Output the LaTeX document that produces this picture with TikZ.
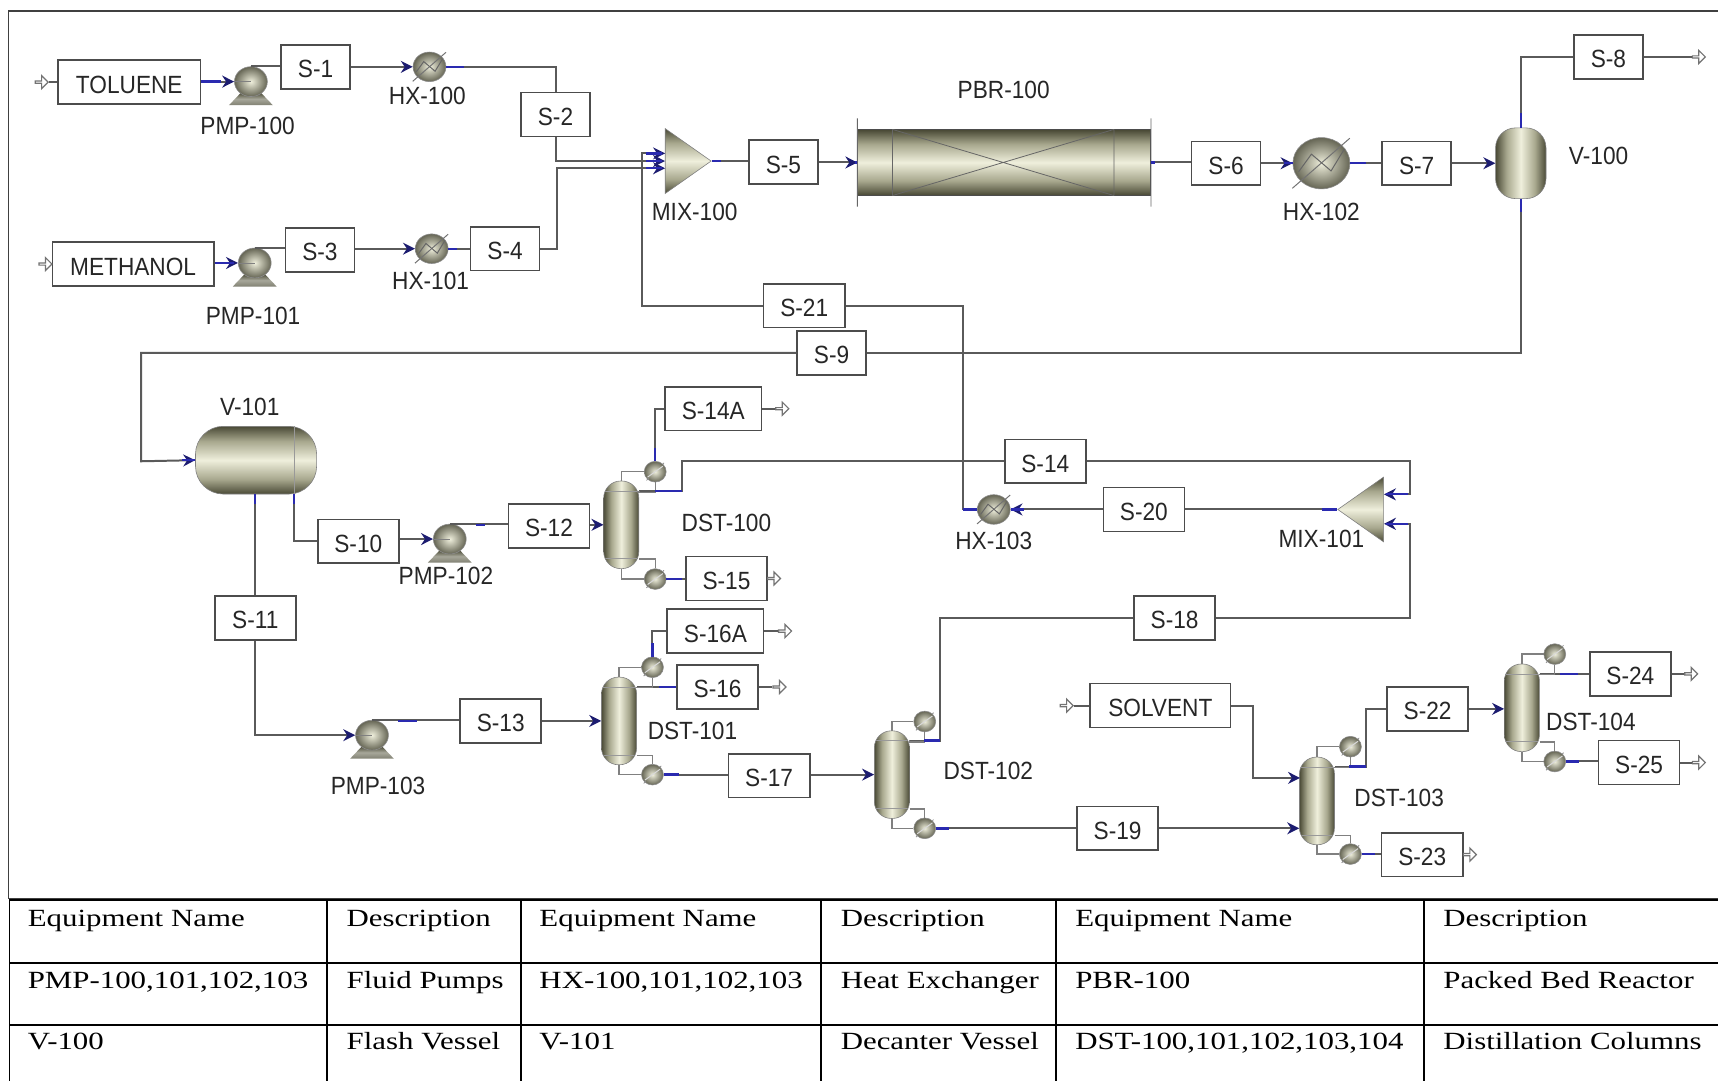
\documentclass[tikz,border=0pt]{standalone}
\usepackage{fontspec}
\usetikzlibrary{arrows.meta,shapes.geometric,shapes.arrows}
\newfontfamily\flowfont[FakeStretch=0.91]{Liberation Sans}
\newfontfamily\tablefont[FakeStretch=1.25]{Liberation Serif}
\definecolor{pipegray}{HTML}{5A5A5A}
\definecolor{nozzleblue}{HTML}{2A2AB0}
\definecolor{tipblue}{HTML}{1C1C70}
\definecolor{eqdark}{HTML}{4A4A36}
\definecolor{eqmid}{HTML}{A8A88E}
\definecolor{eqlight}{HTML}{EFEFDC}
\pgfdeclarehorizontalshading{colshade}{100bp}{color(0bp)=(eqdark);color(25bp)=(eqdark);color(36bp)=(eqmid);color(50bp)=(eqlight);color(64bp)=(eqmid);color(75bp)=(eqdark);color(100bp)=(eqdark)}
\pgfdeclareverticalshading{barshade}{100bp}{color(0bp)=(eqdark);color(25bp)=(eqdark);color(36bp)=(eqmid);color(50bp)=(eqlight);color(64bp)=(eqmid);color(75bp)=(eqdark);color(100bp)=(eqdark)}
\tikzset{
  flowtext/.style={font=\flowfont\fontsize{12.5}{14}\selectfont,text=black!85},
  streambox/.style={draw=black!70,line width=0.8pt,fill=white,inner sep=0pt,minimum width=#1,minimum height=22pt,flowtext,text height=11pt,text depth=0pt},
  streambox/.default=34.6pt,
  pipe/.style={draw=pipegray,line width=1pt},
  feed/.style={pipe,-{Stealth[length=6pt,width=6pt,color=tipblue]}},
  nozzle/.style={draw=nozzleblue,line width=1.2pt},
  loop/.style={draw=black!50,line width=0.7pt},
  openarrow/.style={single arrow,draw=black!55,fill=white,line width=0.6pt,inner sep=0pt,minimum height=6.5pt,minimum width=6.5pt,single arrow head extend=1.5pt},
  ball/.style={ellipse,inner sep=0pt,draw=black!45,line width=0.3pt,inner color=eqlight,outer color=eqdark!85},
  column/.style={rectangle,rounded corners=8.5pt,inner sep=0pt,minimum width=17.6pt,minimum height=44pt,draw=black!50,line width=0.3pt,shade,shading=colshade,
    path picture={\draw[black!40,line width=0.3pt] ([yshift=-5pt]path picture bounding box.north west) -- ([yshift=-5pt]path picture bounding box.north east) ([yshift=5pt]path picture bounding box.south west) -- ([yshift=5pt]path picture bounding box.south east);}},
  mixer/.style={isosceles triangle,isosceles triangle stretches,inner sep=0pt,minimum width=32.5pt,minimum height=23pt,shape border rotate=#1,draw=black!50,line width=0.3pt,shade,shading=barshade},
  tablerule/.style={draw=black,line width=0.8pt},
  tabletext/.style={anchor=base west,inner sep=0pt,font=\tablefont\fontsize{12.4}{14}\selectfont}
}
\begin{document}
\begin{tikzpicture}[x=0.55pt,y=-0.55pt]
  \useasboundingbox (0,0) rectangle (1568,987);
  \draw[black!75,line width=0.7pt] (1568,10) -- (7.5,10) -- (7.5,820) -- (1568,820);

  % stream boxes
  \foreach \n/\t/\x/\y/\w in {toluene/TOLUENE/118/75/71.5pt,methanol/METHANOL/121.5/241/80.9pt,solvent/SOLVENT/1059/644/70.4pt,
      s1/S-1/288/61/34.6pt,s2/S-2/507/104.5/34.6pt,s3/S-3/292/228/34.6pt,s4/S-4/461/227/34.6pt,s5/S-5/715/148/34.6pt,
      s6/S-6/1119/149/34.6pt,s7/S-7/1293/149/34.6pt,s8/S-8/1468/52/34.6pt,s9/S-9/759/322/34.6pt,
      s10/S-10/327/494/40.7pt,s11/S-11/233/564/40.7pt,s12/S-12/501/480/40.7pt,s13/S-13/457/658/40.7pt,
      s14/S-14/954/421/40.7pt,s14a/S-14A/651/373/48.4pt,s15/S-15/663/528/40.7pt,s16/S-16/655/627/40.7pt,
      s16a/S-16A/653/576/48.4pt,s17/S-17/702/708/40.7pt,s18/S-18/1072/564/40.7pt,s19/S-19/1020/756/40.7pt,
      s20/S-20/1044/465/40.7pt,s21/S-21/734/279/40.7pt,s22/S-22/1303/647/40.7pt,s23/S-23/1298/780/40.7pt,
      s24/S-24/1488/615/40.7pt,s25/S-25/1496/696/40.7pt}
    \node[streambox=\w] (\n) at (\x,\y) {\t};

  % pumps
  \foreach \n/\x/\y in {pmp100/229/74.5,pmp101/232.5/240,pmp102/410.5/492,pmp103/339.5/671}{
    \begin{scope}[shift={(\x,\y)}]
      \shade[top color=eqdark,bottom color=eqdark!70,middle color=eqlight!70!black] (-9,10) -- (9,10) -- (20,21.5) -- (-20,21.5) -- cycle;
      \node[ball,minimum width=16.5pt,minimum height=15pt] (\n) at (0,0) {};
      \draw[black!50,line width=0.4pt] (-15,0) -- (0,0);
    \end{scope}}

  % heat exchangers
  \foreach \n/\x/\y/\r in {hx100/392/61/15,hx101/394/227/15,hx102/1206/149/26,hx103/907/465/15}{
    \node[ball,minimum width=2*\r*0.55pt,minimum height=1.8*\r*0.55pt] (\n) at (\x,\y) {};
    \begin{scope}[shift={(\x,\y)},scale=\r]
      \draw[black!55,line width=0.5pt] (-1.02,0.88) -- (1,-0.88);
      \draw[black!60,line width=0.5pt] (-0.8,0.3) -- (-0.35,-0.32) -- (0.34,0.27) -- (0.8,-0.49);
    \end{scope}}

  % condensers and reboilers
  \foreach \n/\x/\y in {cnd100/598/430.5,reb100/598/528.5,cnd101/595.5/609,reb101/595.5/707,cnd102/844/658.5,reb102/844/756,
      cnd103/1232.5/681.5,reb103/1232.5/779.5,cnd104/1419/597,reb104/1419/695}{
    \node[ball,minimum width=11pt,minimum height=10.4pt] (\n) at (\x,\y) {};
    \draw[white!85!black,line width=0.5pt] (\x-7,\y+5) -- (\x+7,\y-5);
    \draw[black!45,line width=0.4pt] (\x-8,\y+8) -- (\x-6,\y+6) (\x+8,\y-8) -- (\x+7,\y-7);}

  % columns and vessels
  \node[column] (dst100) at (567,479) {};
  \node[column] (dst101) at (565,658) {};
  \node[column] (dst102) at (814,707) {};
  \node[column] (dst103) at (1202,731) {};
  \node[column] (dst104) at (1389,646) {};
  \node[column,rounded corners=10pt,minimum width=25.3pt,minimum height=35.5pt,path picture={}] (v100) at (1388,149) {};
  \node[rectangle,rounded corners=14pt,inner sep=0pt,minimum width=60.8pt,minimum height=34pt,draw=black!50,line width=0.3pt,shade,shading=barshade] (v101) at (233.7,420) {};
  \draw[black!40,line width=0.3pt] ([shift={(34.5,0)}]v101.north) -- ([shift={(34.5,0)}]v101.south);
  \node[mixer=0] (mix100) at (622.5,147) {};
  \node[mixer=180] (mix101) at (1247.5,465) {};

  % reactor
  \node[rectangle,inner sep=0pt,minimum width=146.9pt,minimum height=32.7pt,draw=black!70,line width=0.5pt,shade,shading=barshade] (pbr100) at (916.5,148.3) {};
  \draw[black!60,line width=0.4pt] ([shift={(0,-10)}]pbr100.north west) -- ([shift={(0,10)}]pbr100.south west)
    ([shift={(0,-10)}]pbr100.north east) -- ([shift={(0,10)}]pbr100.south east)
    ([xshift=17.6pt]pbr100.north west) -- ([xshift=17.6pt]pbr100.south west)
    ([xshift=-18.6pt]pbr100.north east) -- ([xshift=-18.6pt]pbr100.south east)
    ([xshift=17.6pt]pbr100.north west) -- ([xshift=-18.6pt]pbr100.south east)
    ([xshift=17.6pt]pbr100.south west) -- ([xshift=-18.6pt]pbr100.north east);

  % open arrows for feeds and products
  \foreach \n/\x/\y in {intol/37.5/75,inmet/41/241,insol/973/644,out8/1550/52,out14a/713.5/373,out15/706/528,out16a/716/576,
      out16/711/627,out23/1341/780,out24/1543/615,out25/1550/696}
    \node[openarrow] (\n) at (\x,\y) {};

  \coordinate (mixa) at (607,140);
  \coordinate (mixb) at (607,147);
  \coordinate (mixc) at (607,153.6);

  % feed section
  \draw[pipe] (intol) -- (toluene);
  \draw[feed] (toluene.east |- pmp100) -- (pmp100.west);
  \draw[pipe] (pmp100.north) -- (pmp100.north -| s1.west);
  \draw[feed] (s1) -- (hx100.west);
  \draw[pipe] (hx100.east) -| (s2.north);
  \draw[feed] (s2.south) |- (mixb);
  \draw[pipe] (inmet) -- (methanol);
  \draw[feed] (methanol.east |- pmp101) -- (pmp101.west);
  \draw[pipe] (pmp101.north) -- (pmp101.north -| s3.west);
  \draw[feed] (s3.east |- hx101) -- (hx101.west);
  \draw[pipe] (hx101.east) -- (s4.west);
  \draw[feed] (s4.east) -- ++(15,0) |- (mixc);
  \draw[feed] (s21.west) -- ++(-110,0) |- (mixa);

  % reactor train
  \draw[pipe] (mix100.apex) -- (mix100.apex -| s5.west);
  \draw[feed] (s5.east |- pbr100) -- (pbr100.west);
  \draw[pipe] (pbr100.east) -- (pbr100.east -| s6.west);
  \draw[feed] (s6) -- (hx102.west);
  \draw[pipe] (hx102.east) -- (s7.west);
  \draw[feed] (s7) -- (v100.west);
  \draw[pipe] (v100.north) |- (s8.west);
  \draw[pipe] (s8) -- (out8);
  \draw[pipe] (v100.south) |- (s9.east);
  \draw[feed] (s9.west) -| ++(-598,99) -- (v101.west);

  % decanter and first columns
  \draw[pipe] (v101.south -| s11) -- (s11.north);
  \draw[feed] (s11.south) |- (pmp103.west);
  \draw[pipe] ([xshift=34.5*0.55pt]v101.south) |- (s10.west);
  \draw[feed] (s10.east |- pmp102) -- (pmp102.west);
  \draw[pipe] (pmp102.north) -- (pmp102.north -| s12.west);
  \draw[feed] (s12.east |- dst100) -- (dst100.west);
  \draw[pipe] (pmp103.north) -- (pmp103.north -| s13.west);
  \draw[feed] (s13) -- (dst101.west);
  \draw[pipe] (cnd100.north) |- (s14a.west);
  \draw[pipe] (s14a.east) -- (out14a);
  \draw[pipe] (reb100.east) -- (reb100.east -| s15.west);
  \draw[pipe] (cnd101.north) |- (s16a.west);
  \draw[pipe] (s16a.east) -- (out16a);
  \draw[pipe] (s16.east) -- (out16);
  \draw[pipe] (reb101.east) -- (reb101.east -| s17.west);
  \draw[feed] (s17.east |- dst102) -- (dst102.west);
  \coordinate (dst100top) at (622,448);
  \draw[pipe] (dst100.east |- dst100top) -- (dst100top) |- (s14.west);
  \draw[pipe] (dst101.east |- s16) -- (s16.west);
  \draw[feed] (s14.east) -- ++(295,0) |- ([yshift=7.6pt]mix101.east);

  % recycle
  \draw[pipe] (mix101.apex) -- (s20.east);
  \draw[feed] (s20) -- (hx103.east);
  \draw[pipe] (hx103.west) -- ++(-13,0) |- (s21.east);
  \coordinate (dst102top) at (857.6,676);
  \draw[pipe] (dst102.east |- dst102top) -- (dst102top) |- (s18.west);
  \draw[feed] (s18.east) -- ++(177,0) |- ([yshift=-7.2pt]mix101.east);

  % solvent section
  \draw[pipe] (insol) -- (solvent);
  \draw[feed] (solvent.east) -- ++(20,0) |- (1186.5,710);
  \draw[pipe] (reb102.east) -- (reb102.east -| s19.west);
  \draw[feed] (s19) -- (s19 -| dst103.west);
  \coordinate (dst103top) at (1247,699.7);
  \draw[pipe] (dst103.east |- dst103top) -- (dst103top) |- (s22.west);
  \draw[feed] (s22) -- (s22 -| dst104.west);
  \draw[pipe] (reb103.east) -- (reb103.east -| s23.west);
  \draw[pipe] (dst104.east |- s24) -- (s24.west);
  \draw[pipe] (s24.east) -- (out24);
  \draw[pipe] (reb104.east) -- (reb104.east -| s25.west);
  \draw[pipe] (s25.east) -- (out25);

  % condenser and reboiler loops
  \foreach \col/\cnd/\reb in {dst100/cnd100/reb100,dst101/cnd101/reb101,dst102/cnd102/reb102,dst103/cnd103/reb103,dst104/cnd104/reb104}{
    \draw[loop] (\col.north) |- (\cnd.west);
    \draw[loop] (\cnd.south) -- ++(0,9) -| ([shift={(0,9)}]\col.north east);
    \draw[loop] (\col.south) |- (\reb.west);
    \draw[loop] ([shift={(0,-9)}]\col.south east) -| (\reb.north);}

  % blue nozzle stubs
  \foreach \p/\dx/\dy in {toluene.east |- pmp100/18/0,methanol.east |- pmp101/18/0,hx100.east/16/0,hx101.east/8/0,hx102.east/14/0,
      hx102.west/-8/0,v100.north/0/-13,v100.south/0/12,mix100.apex/8/0,pbr100.east/4/0,pbr100.west/-2/0,
      v101.west/-12/0,v101.south -| s11/0/9,hx103.west/-13/0,hx103.east/12/0,mix101.apex/-14/0,
      cnd100.north/0/-12,reb100.east/14/0,cnd101.north/0/-12,reb101.east/14/0,reb102.east/12/0,
      reb103.east/12/0,reb104.east/12/0,dst100top/-24/0,dst102top/-14/0,dst103top/-16/0,s16.west/-16/0}
    \draw[nozzle] (\p) -- ++(\dx,\dy);
  \foreach \x/\y/\l in {434/479/9,363/658/18,1265/451/20,1265/478/20,590/140/14,590/147/14,590/153.6/14,1424/615/16}
    \draw[nozzle] (\x,\y) -- ++(\l,0);
  \draw[nozzle] ([xshift=34.5*0.55pt]v101.south) -- ++(0,9);

  % equipment labels
  \foreach \n/\t/\x/\y in {lpmp100/PMP-100/226/115,lhx100/HX-100/390/88,lpbr100/PBR-100/916/82,lmix100/MIX-100/634/193,
      lhx102/HX-102/1206/193,lv100/V-100/1459/142,lpmp101/PMP-101/231/288,lhx101/HX-101/393/256,lv101/V-101/228/371,
      ldst100/DST-100/663/477,lpmp102/PMP-102/407/526,ldst101/DST-101/632/667,lpmp103/PMP-103/345/717,lhx103/HX-103/907/494,
      lmix101/MIX-101/1206/492,ldst102/DST-102/902/704,ldst103/DST-103/1277/728,ldst104/DST-104/1452/659}
    \node[flowtext,inner sep=0pt] (\n) at (\x,\y) {\t};

  % table
  \draw[tablerule,line width=1.1pt] (8.5,821.5) -- (1568,821.5);
  \draw[tablerule,line width=1.1pt] (8.5,878.6) -- (1568,878.6) (8.5,935.5) -- (1568,935.5);
  \foreach \x in {8.5,298.5,475.6,749.5,963.8,1299.4}
    \draw[tablerule] (\x,821.5) -- (\x,987);
  \foreach \x/\y/\t [count=\i] in {25/845.5/{Equipment Name},316/845.5/{Description},492/845.5/{Equipment Name},767/845.5/{Description},981/845.5/{Equipment Name},1317/845.5/{Description},
      25/902.5/{PMP-100,101,102,103},316/902.5/{Fluid Pumps},492/902.5/{HX-100,101,102,103},767/902.5/{Heat Exchanger},981/902.5/{PBR-100},1317/902.5/{Packed Bed Reactor},
      25/958/{V-100},316/958/{Flash Vessel},492/958/{V-101},767/958/{Decanter Vessel},981/958/{DST-100,101,102,103,104},1317/958/{Distillation Columns}}
    \node[tabletext] (cell\i) at (\x,\y) {\t};
\end{tikzpicture}
\end{document}
